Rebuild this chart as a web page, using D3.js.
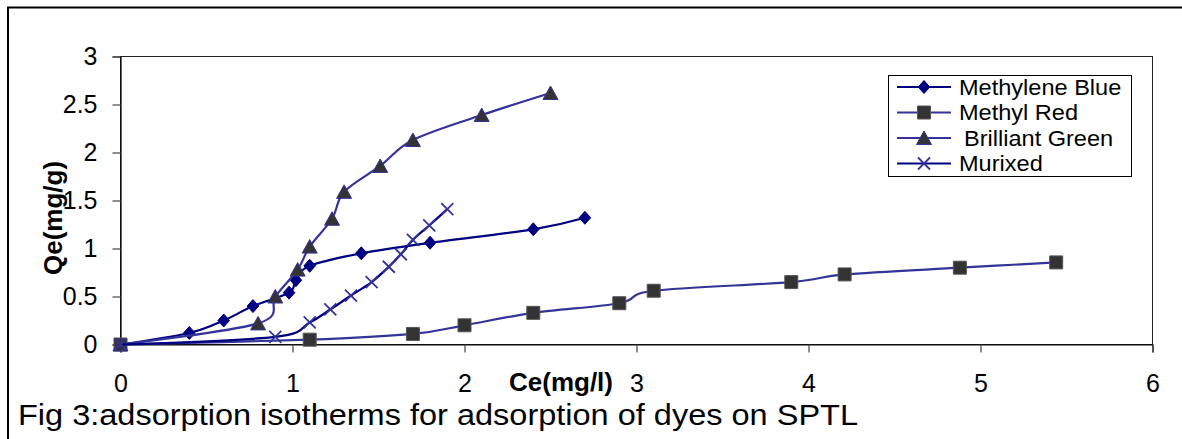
<!DOCTYPE html>
<html>
<head>
<meta charset="utf-8">
<script src="https://cdn.jsdelivr.net/npm/d3@7"></script>
<style>
  html, body { margin: 0; padding: 0; background: #fff; }
  svg { display: block; }
  text { font-family: Arial, "Liberation Sans", sans-serif; fill: #000; }
</style>
</head>
<body>
<svg id="chart" width="1182" height="439"></svg>
<script>
// Adsorption isotherm data: Ce (mg/l) vs Qe (mg/g) for each dye
const seriesNames = ["Methylene Blue", "Methyl Red", "Brilliant Green", "Murixed"];

const methyleneBlueCe = [0, 0.40, 0.60, 0.77, 0.98, 1.02, 1.10, 1.40, 1.80, 2.40, 2.70];
const methyleneBlueQe = [0, 0.12, 0.25, 0.40, 0.54, 0.67, 0.82, 0.95, 1.06, 1.20, 1.32];

const methylRedCe = [0, 1.10, 1.70, 2.00, 2.40, 2.90, 3.10, 3.90, 4.21, 4.88, 5.44];
const methylRedQe = [0, 0.05, 0.11, 0.20, 0.33, 0.43, 0.56, 0.65, 0.73, 0.80, 0.855];

const brilliantGreenCe = [0, 0.80, 0.90, 1.03, 1.10, 1.23, 1.30, 1.51, 1.70, 2.10, 2.50];
const brilliantGreenQe = [0, 0.22, 0.50, 0.78, 1.02, 1.31, 1.59, 1.86, 2.13, 2.39, 2.62];

const murixedCe = [0, 0.90, 1.10, 1.22, 1.34, 1.46, 1.56, 1.63, 1.70, 1.795, 1.90];
const murixedQe = [0, 0.08, 0.23, 0.365, 0.51, 0.65, 0.81, 0.94, 1.09, 1.24, 1.41];

const xTicks = [0, 1, 2, 3, 4, 5, 6];
const yTicks = [0, 0.5, 1, 1.5, 2, 2.5, 3];

const xTitle = "Ce(mg/l)";
const yTitle = "Qe(mg/g)";
const caption = "Fig 3:adsorption isotherms for adsorption of dyes on SPTL";

// Series styling
const styles = [
  { line: "#000080", marker: "diamond",  fill: "#000080", stroke: "#000080" },
  { line: "#333399", marker: "square",   fill: "#333333", stroke: "#555555" },
  { line: "#333399", marker: "triangle", fill: "#333333", stroke: "#333399" },
  { line: "#000080", marker: "cross",    fill: "none",    stroke: "#333399" }
];

const series = [
  { name: seriesNames[0], xs: methyleneBlueCe, ys: methyleneBlueQe },
  { name: seriesNames[1], xs: methylRedCe, ys: methylRedQe },
  { name: seriesNames[2], xs: brilliantGreenCe, ys: brilliantGreenQe },
  { name: seriesNames[3], xs: murixedCe, ys: murixedQe }
].map((s, i) => ({ ...s, style: styles[i], points: s.xs.map((x, j) => [x, s.ys[j]]) }));

const svg = d3.select("#chart");

// Outer frame (left and top edges)
svg.append("line").attr("x1", 8).attr("y1", 7).attr("x2", 8).attr("y2", 439)
  .attr("stroke", "#000").attr("stroke-width", 2);
svg.append("line").attr("x1", 7).attr("y1", 7.5).attr("x2", 1182).attr("y2", 7.5)
  .attr("stroke", "#000").attr("stroke-width", 2);

const plot = { left: 120.5, right: 1152.5, top: 56.5, bottom: 344.5 };

const x = d3.scaleLinear().domain([0, 6]).range([plot.left, plot.right]);
const y = d3.scaleLinear().domain([0, 3]).range([plot.bottom, plot.top]);

// Plot area border
svg.append("rect")
  .attr("x", plot.left).attr("y", plot.top)
  .attr("width", plot.right - plot.left).attr("height", plot.bottom - plot.top)
  .attr("fill", "none").attr("stroke", "#222").attr("stroke-width", 1);

// Axes
const xAxis = svg.append("g").attr("transform", `translate(0,${plot.bottom})`)
  .call(d3.axisBottom(x).tickValues(xTicks).tickSize(8).tickPadding(22).tickFormat(d3.format("d")));
const yAxis = svg.append("g").attr("transform", `translate(${plot.left},0)`)
  .call(d3.axisLeft(y).tickValues(yTicks).tickSize(8).tickPadding(15).tickFormat(d => String(d)));

[xAxis, yAxis].forEach(a => {
  a.select(".domain").attr("stroke", "#000").attr("stroke-width", 1.2);
  a.selectAll(".tick line").attr("stroke", "#444").attr("stroke-width", 1.2);
  a.selectAll(".tick text")
    .attr("font-family", "Arial, 'Liberation Sans', sans-serif")
    .attr("font-size", 25).attr("fill", "#000");
});
xAxis.selectAll(".tick text").attr("dy", "0.71em");

// Axis titles
svg.append("text")
  .attr("x", 561).attr("y", 391)
  .attr("text-anchor", "middle")
  .attr("font-size", 26).attr("font-weight", "bold")
  .text(xTitle);
svg.append("text")
  .attr("transform", "translate(62,218) rotate(-90)")
  .attr("text-anchor", "middle")
  .attr("font-size", 26).attr("font-weight", "bold")
  .text(yTitle);

// Marker shapes
function markerPath(kind) {
  switch (kind) {
    case "diamond":  return "M0,-6.5L5.8,0L0,6.5L-5.8,0Z";
    case "square":   return "M-6.5,-6.5H6.5V6.5H-6.5Z";
    case "triangle": return "M0,-7L7.5,6.5H-7.5Z";
    case "cross":    return "M-6,-6L6,6M-6,6L6,-6";
  }
}

function drawMarker(g, kind, st, cx, cy) {
  g.append("path")
    .attr("d", markerPath(kind))
    .attr("transform", `translate(${cx},${cy})`)
    .attr("fill", st.fill)
    .attr("stroke", st.stroke)
    .attr("stroke-width", kind === "cross" ? 1.8 : 1);
}

const line = d3.line()
  .x(d => x(d[0])).y(d => y(d[1]))
  .curve(d3.curveCardinal.tension(0));

series.forEach(s => {
  const g = svg.append("g");
  g.append("path")
    .datum(s.points)
    .attr("d", line)
    .attr("fill", "none")
    .attr("stroke", s.style.line)
    .attr("stroke-width", 2.2);
  s.points.forEach(p => drawMarker(g, s.style.marker, s.style, x(p[0]), y(p[1])));
});

// Legend (entry labels are set slightly wide)
const legend = svg.append("g");
legend.append("rect")
  .attr("x", 888.5).attr("y", 75.5).attr("width", 243).attr("height", 101)
  .attr("fill", "#fff").attr("stroke", "#000").attr("stroke-width", 1);
const legendY = [87, 112.5, 138, 163.5];
series.forEach((s, i) => {
  const ly = legendY[i];
  legend.append("line")
    .attr("x1", 897).attr("x2", 951).attr("y1", ly).attr("y2", ly)
    .attr("stroke", s.style.line).attr("stroke-width", 2.2);
  drawMarker(legend, s.style.marker, s.style, 924, ly);
  const t = legend.append("text")
    .attr("x", i === 2 ? 964 : 959).attr("y", ly)
    .attr("dy", "0.35em")
    .attr("font-size", 22)
    .text(s.name);
  const w = t.node().getComputedTextLength();
  t.attr("textLength", w * 1.07).attr("lengthAdjust", "spacingAndGlyphs");
});

// Figure caption
svg.append("text")
  .attr("x", 18).attr("y", 425)
  .attr("font-size", 30)
  .attr("textLength", 840).attr("lengthAdjust", "spacingAndGlyphs")
  .text(caption);
</script>
</body>
</html>
